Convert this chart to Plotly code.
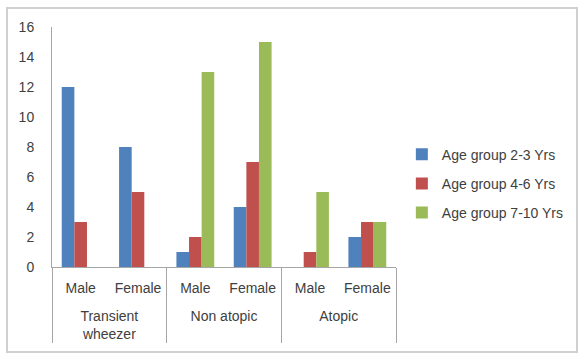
import plotly.graph_objects as go

groups = [" <br>Transient<br>wheezer", " <br>Transient<br>wheezer",
          " <br>Non atopic<br> ", " <br>Non atopic<br> ", " <br>Atopic<br> ", " <br>Atopic<br> "]
sexes = ["Male", "Female", "Male", "Female", "Male", "Female"]

series_names = ["Age group 2-3 Yrs", "Age group 4-6 Yrs", "Age group 7-10 Yrs"]
age_2_3 = [12, 8, 1, 4, 0, 2]
age_4_6 = [3, 5, 2, 7, 1, 3]
age_7_10 = [0, 0, 13, 15, 5, 3]
colors = ["#4F81BD", "#C0504D", "#9BBB59"]

y_ticks = [0, 2, 4, 6, 8, 10, 12, 14, 16]

W, H = 578, 355
L, R, T, B = 52, 182, 27, 88

fig = go.Figure()
for i, (name, vals) in enumerate(zip(series_names, [age_2_3, age_4_6, age_7_10])):
    fig.add_trace(go.Bar(
        x=[groups, sexes], y=vals, name=name,
        marker=dict(color=colors[i], line=dict(width=0)),
        legendgroup=f"g{i}",
    ))

font = dict(family="Liberation Sans, Arial, sans-serif", size=14, color="#404040")

fig.update_layout(
    width=W, height=H,
    margin=dict(l=L, r=R, t=T, b=B, autoexpand=False),
    paper_bgcolor="white", plot_bgcolor="white",
    barmode="group", bargap=0.34, bargroupgap=0,
    font=font,
    showlegend=True,
    legend=dict(
        x=1.017, y=0.535, xanchor="left", yanchor="top",
        font=dict(size=14, color="#404040"),
        tracegroupgap=8, itemwidth=30,
        bgcolor="rgba(0,0,0,0)",
    ),
    xaxis=dict(
        type="multicategory",
        showline=True, linecolor="#a6a6a6", linewidth=1,
        showdividers=True, dividercolor="#a6a6a6", dividerwidth=1,
        ticks="", showgrid=False,
        ticklabelstandoff=8,
        tickfont=dict(size=14, color="#404040"),
    ),
    yaxis=dict(
        range=[0, 16], tickvals=y_ticks,
        showline=True, linecolor="#a6a6a6", linewidth=1,
        showgrid=False, zeroline=False, ticks="",
        ticklabelstandoff=14,
        tickfont=dict(size=14, color="#404040"),
    ),
)

# light outer frame around the chart area
fig.add_shape(
    type="rect", xref="paper", yref="paper",
    x0=(7 - L) / (W - L - R), x1=(577 - L) / (W - L - R),
    y0=-(352 - (H - B)) / (H - T - B), y1=1 + (T - 8) / (H - T - B),
    line=dict(color="#d0d0d0", width=2), layer="below",
)

fig.write_html("out.html")
